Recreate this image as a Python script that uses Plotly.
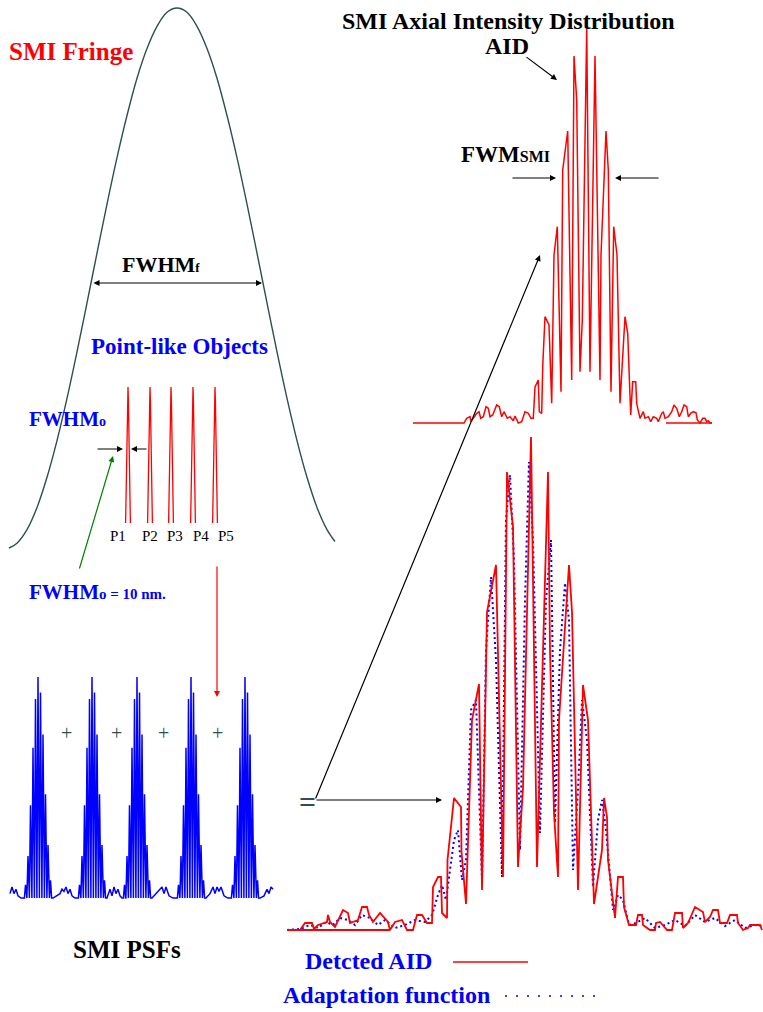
import plotly.graph_objects as go

W, H = 763, 1012

# ---------------- data ----------------
# SMI fringe (relative intensity vs. axial offset)
fringe_x = [-168, -160, -150, -140, -130, -120, -110, -100, -90, -80, -70, -60, -50, -40, -30, -20, -10, 0,
            10, 20, 30, 40, 50, 60, 70, 80, 90, 100, 110, 120, 130, 140, 150, 158]
fringe_i = [0.000, 0.009, 0.034, 0.075, 0.131, 0.199, 0.277, 0.363, 0.454, 0.546, 0.637, 0.723, 0.801, 0.870,
            0.925, 0.966, 0.992, 1.000, 0.992, 0.966, 0.925, 0.870, 0.801, 0.723, 0.637, 0.546, 0.454, 0.363,
            0.277, 0.199, 0.131, 0.075, 0.034, 0.012]

# point-like objects
object_pos = [-49, -27, -6, 16, 38]
object_labels = ["P1", "P2", "P3", "P4", "P5"]
object_profile_dx = [-2.4, -1.2, -0.4, 0.0, 0.4, 1.2, 2.4]
object_profile_h = [0.0, 0.45, 0.9, 1.0, 0.9, 0.45, 0.0]

# SMI PSFs of the five objects
psf_centers = [-99, -45, 0, 54, 108]
psf_spike_dx = [-12.5, -10, -7.5, -5, -2.5, 0, 2.5, 5, 7.5, 10, 12.5]
psf_spike_h = [0.06, 0.19, 0.42, 0.68, 0.90, 1.00, 0.93, 0.74, 0.47, 0.24, 0.08]
psf_noise_x = [-127, -125, -123, -121, -119, -116, -114,
               -84, -81, -77, -75, -73, -71, -69, -67, -65, -62, -60,
               -30, -27, -25, -23, -21, -19, -17, -15,
               15, 19, 23, 25, 27, 29, 32, 36, 39,
               69, 73, 76, 78, 80, 82, 84, 87, 91, 93,
               123, 127, 130, 132, 134, 136]
psf_noise_h = [0.02, 0.05, 0.02, 0.04, 0.01, 0.0, 0.0,
               0.0, 0.01, 0.02, 0.04, 0.03, 0.05, 0.02, 0.04, 0.01, 0.0, 0.0,
               0.0, 0.04, 0.01, 0.05, 0.02, 0.04, 0.01, 0.0,
               0.0, 0.02, 0.04, 0.05, 0.02, 0.05, 0.01, 0.0, 0.0,
               0.0, 0.02, 0.05, 0.02, 0.05, 0.03, 0.05, 0.01, 0.0, 0.0,
               0.0, 0.01, 0.04, 0.02, 0.05, 0.04]

# SMI axial intensity distribution (single object)
aid_x = [-174, -123, -120.3, -117, -116, -113.7, -110.3, -108, -106.3, -103.7, -101, -98.7, -97, -94.3, -92,
         -90.3, -87.7, -85.3, -83, -81, -79.7, -77, -73.7, -72, -68.7, -65.3, -62, -58.7, -56, -53.7,
         -52, -48.7, -47.7, -45.3, -44.3, -42, -38, -35.3, -33, -29.7, -26, -24.3, -19.3, -15.3, -13,
         -10.3, -7, -4.7, -0.3, 3, 8, 13, 14, 19, 21.3, 24, 26.7, 30, 33, 38, 40.7, 43.7, 45.7, 48.7,
         49.7, 53, 56.3, 58, 61.3, 63.7, 66.3, 69.7, 71.3, 74.7, 76.3, 78, 81.3, 84.7, 87, 89.7, 92.3,
         94.7, 97, 99.7, 101.3, 103.7, 106.3, 109, 110.3, 113, 114.7, 115.7, 118, 119.7, 121.3, 123, 124.7]
aid_y = [0, 0, 4.7, 6.3, 1.3, 4.7, 9.7, 11.3, 4.7, 6.3, 16.3, 14.7, 6.3, 8, 13,
         18, 16.3, 6.3, 11.3, 8, 4.7, 6.3, 2.3, 7, 0, 1.3, 11.3, 9.7, 4.7, 4.7,
         36, 43, 11.3, 9.7, 56.3, 106.3, 98, 19.7, 168, 196.3, 31.3, 253, 292, 43, 367,
         323, 51.3, 103, 394.7, 51.3, 367, 43, 168, 292, 253, 31.3, 196.3, 168, 19.7, 106.3, 89.7, 8, 41.3, 41.3,
         19.7, 4.7, 11.3, 4.7, 6.3, 1.3, 6.3, 4.7, 1.3, 9.7, 11.3, 4.7, 6.3, 11.3, 18, 14.7, 6.3,
         11.3, 18, 16.3, 6.3, 9.7, 11.3, 10.3, 3, 0, 3, 4.7, 4.7, 1.3, 2.3, 0, 0]
aid_base_x = [79, 125]
aid_base_y = [0, 0]

# detected AID (sum of the five PSFs)
det_x = [-244, -231, -226, -219, -217, -213, -204, -203, -201, -196, -188, -183, -181, -173, -169, -164, -162,
         -158, -151, -143, -141, -136, -129, -124, -118, -114, -109, -104, -99, -98, -93, -90, -89, -84, -83.5,
         -77, -70, -69.5, -65, -59, -52, -49, -44, -35, -28, -24, -18, -13, -8, 0, 6, 17, 19, 23, 27, 28, 38,
         41, 47, 52, 57, 63, 71, 73, 76, 77, 84, 87, 92, 93, 98, 105, 107, 111, 112, 119, 124, 125, 129, 136,
         141, 144, 151, 152, 157, 164, 172, 174, 179, 182, 187, 189, 196, 199, 206, 207, 212, 217, 219, 229, 231]
det_y = [0, 0, 7, 7, 1, 5, 8, 15, 8, 3, 20, 17, 7, 10, 23, 23, 15,
         8, 17, 8, 0, 8, 10, 0, 0, 15, 15, 7, 7, 43, 53, 53, 17, 12, 70,
         132, 123, 78, 26, 210, 246, 40, 318, 365, 53, 458, 403, 63, 142, 493, 63, 458, 280, 117, 53, 210, 365,
         318, 40, 245, 210, 26, 80, 132, 113, 70, 12, 53, 53, 23, 5, 5, 15, 15, 5, 0, 0, 7, 8, 0,
         0, 17, 17, 2, 7, 23, 18, 8, 13, 20, 20, 7, 7, 15, 15, 7, 0, 2, 5, 5, 0]
det_base_x = [-239, -141]
det_base_y = [0, 0]

# adaptation function
fit_x = [-244, -231, -221, -213, -205, -198, -191, -183, -176, -169, -161, -153, -146, -136, -126, -116, -106,
         -99, -93, -89, -85, -81, -77, -73, -69, -65, -60, -55, -49, -45, -40, -35, -29, -25, -21, -17, -11,
         -6, -2, 2, 9, 15, 20, 24, 29, 34, 38, 42, 47, 51, 56, 62, 67, 71, 75, 82, 87, 92, 98, 105, 114,
         124, 134, 144, 154, 164, 174, 184, 194, 204, 214, 224, 231]
fit_y = [0, 1, 5, 2, 8, 5, 12, 10, 5, 15, 12, 5, 10, 2, 5, 10, 8,
         15, 35, 45, 30, 60, 90, 100, 50, 70, 220, 230, 50, 280, 353, 270, 53, 410, 455, 370, 80,
         330, 468, 390, 97, 330, 390, 107, 280, 347, 310, 60, 140, 230, 190, 43, 110, 130, 100, 20, 35, 30, 5, 7, 12,
         2, 5, 10, 4, 15, 8, 12, 4, 10, 2, 5, 4]

# ---------------- helpers ----------------
def xd(a, b):
    return [a / W, b / W]


def yd(top, bottom):
    return [1 - bottom / H, 1 - top / H]


def PX(x):
    return x / W


def PY(y):
    return 1 - y / H


SERIF = "Liberation Serif, Times New Roman, serif"
RED = "#ff0000"
BLUE = "#0000ff"
SLATE = "#2f4f4f"

fig = go.Figure()

# fringe
fig.add_trace(go.Scatter(x=fringe_x, y=fringe_i, mode="lines", line=dict(color=SLATE, width=1.4, shape="spline"),
                         xaxis="x", yaxis="y", hoverinfo="skip", showlegend=False, cliponaxis=False))

# point-like objects
ox, oy = [], []
for p in object_pos:
    for dx, h in zip(object_profile_dx, object_profile_h):
        ox.append(p + dx)
        oy.append(h)
    ox.append(None)
    oy.append(None)
fig.add_trace(go.Scatter(x=ox, y=oy, mode="lines", line=dict(color=RED, width=1.3),
                         xaxis="x", yaxis="y2", hoverinfo="skip", showlegend=False, cliponaxis=False))

# PSFs
pts = list(zip(psf_noise_x, psf_noise_h))
for c in psf_centers:
    for dx, h in zip(psf_spike_dx, psf_spike_h):
        pts += [(c + dx - 1.1, 0.0), (c + dx, h), (c + dx + 1.1, 0.0)]
pts.sort(key=lambda t: t[0])
fig.add_trace(go.Scatter(x=[p[0] for p in pts], y=[p[1] for p in pts], mode="lines",
                         line=dict(color=BLUE, width=1.5),
                         xaxis="x5", yaxis="y5", hoverinfo="skip", showlegend=False, cliponaxis=False))

# AID top
fig.add_trace(go.Scatter(x=aid_x, y=aid_y, mode="lines", line=dict(color=RED, width=1.5),
                         xaxis="x3", yaxis="y3", hoverinfo="skip", showlegend=False, cliponaxis=False))
fig.add_trace(go.Scatter(x=aid_base_x, y=aid_base_y, mode="lines", line=dict(color=RED, width=1.5),
                         xaxis="x3", yaxis="y3", hoverinfo="skip", showlegend=False, cliponaxis=False))

# detected AID + adaptation function
fig.add_trace(go.Scatter(x=fit_x, y=fit_y, mode="lines", line=dict(color=BLUE, width=2, dash="2px,3px"),
                         xaxis="x4", yaxis="y4", hoverinfo="skip", showlegend=False, cliponaxis=False))
fig.add_trace(go.Scatter(x=det_x, y=det_y, mode="lines", line=dict(color=RED, width=1.8),
                         xaxis="x4", yaxis="y4", hoverinfo="skip", showlegend=False, cliponaxis=False))
fig.add_trace(go.Scatter(x=det_base_x, y=det_base_y, mode="lines", line=dict(color=RED, width=1.8),
                         xaxis="x4", yaxis="y4", hoverinfo="skip", showlegend=False, cliponaxis=False))

hid = dict(visible=False, fixedrange=True)
fig.update_layout(
    width=W, height=H, margin=dict(l=0, r=0, t=0, b=0),
    paper_bgcolor="white", plot_bgcolor="rgba(0,0,0,0)",
    xaxis=dict(domain=xd(0, 345), range=[-177, 168], **hid),
    yaxis=dict(domain=yd(0, 560), range=[-0.0222, 1.0148], anchor="x", **hid),
    yaxis2=dict(domain=yd(380, 530), range=[-0.0515, 1.0515], anchor="x", **hid),
    xaxis3=dict(domain=xd(400, 730), range=[-187, 143], anchor="y3", **hid),
    yaxis3=dict(domain=yd(20, 430), range=[-7, 403], anchor="x3", **hid),
    xaxis4=dict(domain=xd(280, 763), range=[-251, 232], anchor="y4", **hid),
    yaxis4=dict(domain=yd(430, 940), range=[-10, 500], anchor="x4", **hid),
    xaxis5=dict(domain=xd(0, 290), range=[-137, 153], anchor="y5", **hid),
    yaxis5=dict(domain=yd(660, 910), range=[-0.054, 1.077], anchor="x5", **hid),
)

ann = []


def text(x, y, t, size, color="black", xanchor="center", family=SERIF):
    ann.append(dict(x=PX(x), y=PY(y), xref="paper", yref="paper", text=t, showarrow=False,
                    xanchor=xanchor, yanchor="middle", font=dict(family=family, size=size, color=color)))


def arrow(x0, y0, x1, y1, color="black", width=1.2, side="end", head=2):
    ann.append(dict(x=PX(x1), y=PY(y1), xref="paper", yref="paper", text="", showarrow=True,
                    ax=x0 - x1, ay=y0 - y1, arrowhead=head, startarrowhead=head, arrowsize=1,
                    arrowwidth=width, arrowcolor=color, arrowside=side, standoff=0, startstandoff=0))


text(71, 51, "<b>SMI Fringe</b>", 25, RED)
text(120, 264, "<b>FWHM<span style='font-size:13px'>f</span></b>", 22, "black", "left")
arrow(92, 283, 262, 283, side="end+start")
text(179, 346, "<b>Point-like Objects</b>", 23, BLUE)
text(27, 419, "<b>FWHM<span style='font-size:14px'>o</span></b>", 21, BLUE, "left")
arrow(96, 449, 123, 449)
arrow(148, 449, 131, 449)
for lx, lab in zip([118, 150, 175, 201, 226], object_labels):
    text(lx, 536, lab, 15, "black")
arrow(79, 570, 113, 456, color="#008000")
text(27, 592, "<b>FWHM<span style='font-size:15px'>o = 10 nm.</span></b>", 21, BLUE, "left")
arrow(217, 565, 217, 697, color=RED)

text(508, 21, "<b>SMI Axial Intensity Distribution</b>", 24, "black")
text(507, 46, "<b>AID</b>", 24, "black")
arrow(525, 56, 557, 80)
text(459, 154, "<b>FWM<span style='font-size:16px'>SMI</span></b>", 23, "black", "left")
arrow(511, 178, 556, 178)
arrow(660, 178, 615, 178)

for xp in [66, 117, 163, 217]:
    text(xp, 733, "+", 20, SLATE)
text(307, 801, "<b>=</b>", 30, SLATE)
arrow(315, 800, 540, 255)
arrow(315, 800, 442, 800)

text(127, 949, "<b>SMI PSFs</b>", 25, "black")
text(303, 961, "<b>Detcted AID</b>", 24, BLUE, "left")
text(281, 995, "<b>Adaptation function</b>", 24, BLUE, "left")

fig.update_layout(annotations=ann)
fig.add_shape(type="line", xref="paper", yref="paper", x0=PX(453), x1=PX(528), y0=PY(962), y1=PY(962),
              line=dict(color=RED, width=1.5))
fig.add_shape(type="line", xref="paper", yref="paper", x0=PX(505), x1=PX(603), y0=PY(996), y1=PY(996),
              line=dict(color=BLUE, width=1.5, dash="2px,9px"))

fig.write_html("out.html", config=dict(displayModeBar=False),
               post_script="document.body.style.margin='0';document.body.style.overflow='hidden';")
